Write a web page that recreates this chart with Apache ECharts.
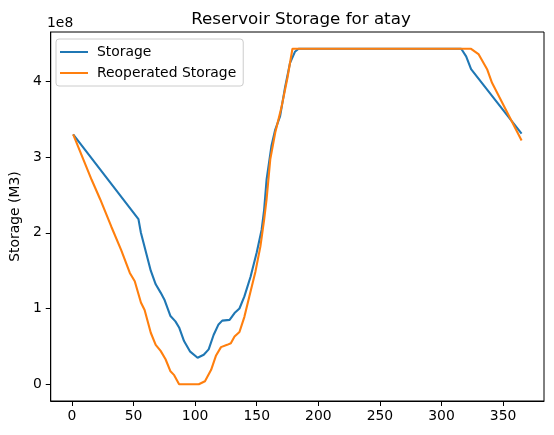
<!DOCTYPE html>
<html>
<head>
<meta charset="utf-8">
<script src="https://cdn.jsdelivr.net/npm/echarts@6/dist/echarts.min.js"></script>
<style>html,body{margin:0;padding:0;background:#fff}#c{width:554px;height:435px}</style>
</head>
<body>
<div id="c"></div>
<script>
// values in units of 1e8 M3
const storageDays = [1,54,56,64,68,72,75,80,84,87,91,96,102,107,111,115,119,122,128,132,136,140,145,150,154,156,158,162,165,169,173,177,181,184,316,320,324,365];
const storageVals = [3.30,2.18,2.00,1.50,1.32,1.21,1.12,0.90,0.83,0.75,0.57,0.43,0.35,0.39,0.46,0.65,0.79,0.84,0.85,0.94,1.00,1.16,1.42,1.74,2.04,2.30,2.70,3.15,3.36,3.54,3.92,4.24,4.39,4.43,4.43,4.33,4.16,3.31];
const reopDays = [1,16,23,32,40,47,51,56,59,64,68,72,76,80,83,87,103,108,113,117,121,126,129,132,136,140,144,149,153,156,158,161,165,170,175,179,324,330,337,341,365];
const reopVals = [3.30,2.70,2.44,2.08,1.77,1.47,1.36,1.08,0.98,0.68,0.52,0.44,0.33,0.17,0.12,0.0,0.0,0.04,0.19,0.38,0.49,0.52,0.54,0.63,0.69,0.89,1.16,1.49,1.82,2.17,2.44,2.97,3.32,3.65,4.05,4.43,4.43,4.36,4.16,3.98,3.22];
const xTicks = [0,50,100,150,200,250,300,350];
const yTicks = [0,1,2,3,4];

const zip = (a,b) => a.map((d,i)=>[d,b[i]]);
const FONT = 'DejaVu Sans';
const chart = echarts.init(document.getElementById('c'), null, {renderer:'canvas'});
chart.setOption({
  animation:false,
  backgroundColor:'#fff',
  textStyle:{fontFamily:FONT},
  title:{text:'Reservoir Storage for atay', left:296, top:6, textAlign:'center',
    textStyle:{fontFamily:FONT, fontSize:16.7, fontWeight:'normal', color:'#000'}},
  graphic:[{type:'text', left:47, top:16, style:{text:'1e8', font:'13.9px "DejaVu Sans"', fill:'#000'}}],
  legend:{
    orient:'vertical', left:56, top:39,
    data:['Storage','Reoperated Storage'],
    icon:'rect', itemWidth:28, itemHeight:2, itemGap:7,
    padding:[6,7,6,4],
    borderColor:'#cccccc', borderWidth:1, borderRadius:3, backgroundColor:'rgba(255,255,255,0.8)',
    textStyle:{fontFamily:FONT, fontSize:13.9, color:'#000', lineHeight:14, padding:[0,0,0,4]}
  },
  grid:{left:48, right:10, top:32, bottom:34, show:true, borderColor:'#000', borderWidth:1},
  xAxis:{type:'value', min:-17.2, max:383.2,
    axisLine:{show:true, onZero:false, lineStyle:{color:'#000', width:1}},
    axisTick:{show:true, length:5, lineStyle:{color:'#000'}, customValues:xTicks},
    axisLabel:{color:'#000', fontSize:13.9, fontFamily:FONT, margin:8, customValues:xTicks},
    splitLine:{show:false}},
  yAxis:{type:'value', min:-0.2215, max:4.6515,
    name:'Storage (M3)', nameLocation:'middle', nameGap:27,
    nameTextStyle:{fontFamily:FONT, fontSize:13.9, color:'#000'},
    axisLine:{show:true, onZero:false, lineStyle:{color:'#000', width:1}},
    axisTick:{show:true, length:5, lineStyle:{color:'#000'}, customValues:yTicks},
    axisLabel:{color:'#000', fontSize:13.9, fontFamily:FONT, margin:9, customValues:yTicks},
    splitLine:{show:false}},
  series:[
    {name:'Storage', type:'line', data:zip(storageDays,storageVals), showSymbol:false, symbol:'none',
      lineStyle:{color:'#1f77b4', width:2.1}, itemStyle:{color:'#1f77b4'}},
    {name:'Reoperated Storage', type:'line', data:zip(reopDays,reopVals), showSymbol:false, symbol:'none',
      lineStyle:{color:'#ff7f0e', width:2.1}, itemStyle:{color:'#ff7f0e'}}
  ]
});
</script>
</body>
</html>
